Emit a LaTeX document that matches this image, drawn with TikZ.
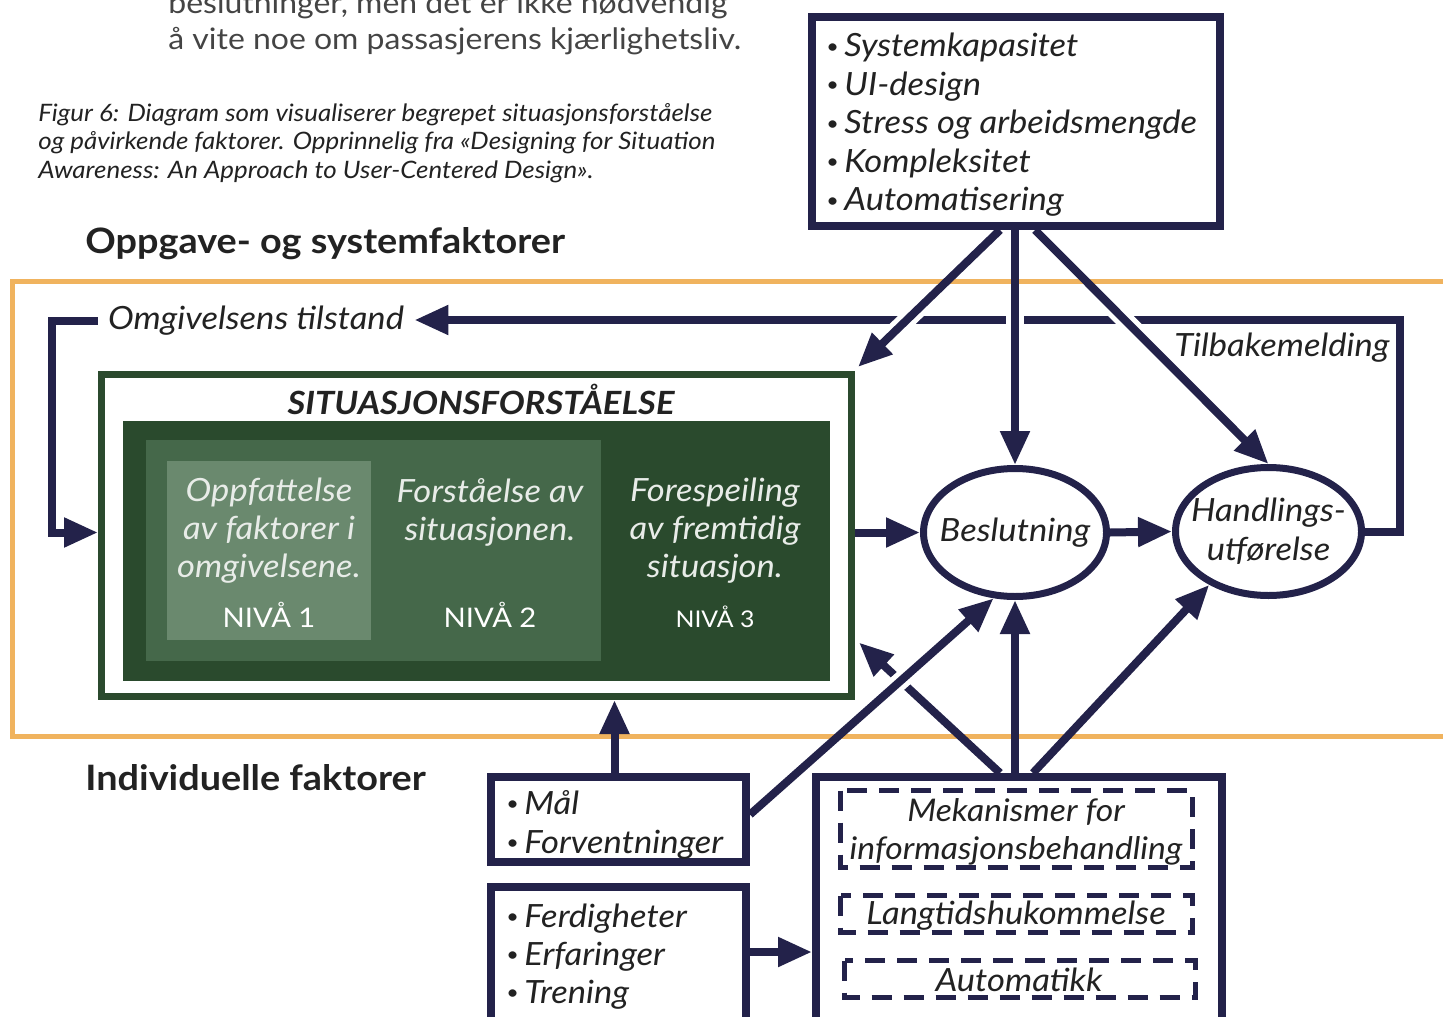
\documentclass[tikz,border=0pt]{standalone}
\usepackage{fontspec}
\setmainfont{Lato}[FakeStretch=1.08]
\usetikzlibrary{arrows.meta,shapes.geometric,calc}
\definecolor{navy}{HTML}{23224A}
\definecolor{ink}{HTML}{222222}
\definecolor{bodygray}{HTML}{444444}
\definecolor{taskorange}{HTML}{F0B35E}
\definecolor{saborder}{HTML}{2B4A2E}
\definecolor{gdark}{HTML}{2A4A2D}
\definecolor{gmid}{HTML}{45684A}
\definecolor{glight}{HTML}{6A896E}
\definecolor{levtext}{HTML}{E8ECE8}

\begin{document}
\begin{tikzpicture}[x=0.5pt,y=-0.5pt,
  conn/.style={draw=navy, line width=4pt, -{Triangle[length=17pt,width=14pt]}},
  halo/.style={draw=white, line width=9pt},
  factorbox/.style={draw=navy, line width=4pt, fill=white, inner sep=0pt},
  dashbox/.style={draw=navy, line width=2.5pt, dash pattern=on 10pt off 6pt},
  oval/.style={ellipse, draw=navy, line width=3.5pt, fill=white, inner sep=0pt},
  lab/.style={font=\fontsize{16}{19.5}\selectfont\itshape, text=ink, inner sep=0pt},
  item/.style={font=\fontsize{16}{19.5}\selectfont\itshape, text=ink, inner sep=0pt, anchor=base west},
  lev/.style={font=\fontsize{16}{19}\selectfont\itshape, text=levtext, align=center, inner sep=0pt},
  nivaa/.style={font=\fontsize{13.5}{16}\selectfont, text=white, inner sep=0pt},
  heading/.style={font=\fontsize{17.5}{21}\selectfont\bfseries, text=ink, anchor=base west, inner sep=0pt},
  captionline/.style={font=\fontsize{12}{14}\selectfont\itshape, text=ink, anchor=base west, inner sep=0pt},
  bodyline/.style={font=\fontsize{14.8}{18}\selectfont, text=bodygray, anchor=base west, inner sep=0pt},
]
\newcommand{\bul}{\makebox[9pt][l]{\upshape\raisebox{1.8pt}{\fontsize{10}{12}\selectfont\textbullet}}}

\useasboundingbox (0,0) rectangle (1443,1016);
\clip (0,0) rectangle (1443,1016);

% running text and caption
\node[bodyline] (body1) at (168,14) {beslutninger, men det er ikke nødvendig};
\node[bodyline] (body2) at (168,50) {å vite noe om passasjerens kjærlighetsliv.};
\node[captionline] (cap1) at (38,122) {Figur 6: Diagram som visualiserer begrepet situasjonsforståelse};
\node[captionline] (cap2) at (38,150) {og påvirkende faktorer. Opprinnelig fra «Designing for Situation};
\node[captionline] (cap3) at (38,179) {Awareness: An Approach to User-Centered Design».};

\node[heading] (h1) at (85,253) {Oppgave- og systemfaktorer};
\node[heading] (h2) at (85,790) {Individuelle faktorer};

% task/system region
\draw[taskorange, line width=2.5pt] (12.5,281.5) rectangle (1480,736.5);

% situation awareness block
\node[draw=saborder, line width=3.5pt, fill=white, minimum width=375pt, minimum height=161pt, inner sep=0pt] (sa) at (476.5,535.5) {};
\fill[gdark] (123,421) rectangle (830,681);
\fill[gmid] (146,440) rectangle (601,661);
\fill[glight] (167,461) rectangle (371,640);
\node[font=\fontsize{16}{18}\selectfont\bfseries\itshape, text=ink, inner sep=0pt] (satitle) at (481,399) {SITUASJONSFORSTÅELSE};
\node[lev] (lev1) at (269,531) {Oppfattelse\\av faktorer i\\omgivelsene.};
\node[lev] (lev2) at (490,512) {Forståelse av\\situasjonen.};
\node[lev] (lev3) at (715,531) {Forespeiling\\av fremtidig\\situasjon.};
\node[nivaa] (n1) at (269,615) {NIVÅ 1};
\node[nivaa] (n2) at (490,615) {NIVÅ 2};
\node[nivaa, font=\fontsize{11.5}{14}\selectfont] (n3) at (715,617) {NIVÅ 3};

% decision and action
\node[oval, minimum width=91.5pt, minimum height=64pt] (besl) at (1015,532.5) {};
\node[lab] at (besl) {Beslutning};
\node[oval, minimum width=93pt, minimum height=64pt] (hand) at (1268.5,531.5) {};
\node[lab, align=center] at (hand) {Handlings-\\utførelse};

% factor boxes
\node[factorbox, minimum width=204pt, minimum height=104.5pt] (sys) at (1016,121.5) {};
\node[item] (s1) at (826,57) {\bul Systemkapasitet};
\node[item] (s2) at (826,95.5) {\bul UI-design};
\node[item] (s3) at (826,134) {\bul Stress og arbeidsmengde};
\node[item] (s4) at (826,172.5) {\bul Kompleksitet};
\node[item] (s5) at (826,211) {\bul Automatisering};

\node[factorbox, minimum width=127.5pt, minimum height=42.5pt] (mal) at (618.5,819.5) {};
\node[item] (m1) at (506,814) {\bul Mål};
\node[item] (m2) at (506,853) {\bul Forventninger};

\node[factorbox, minimum width=127.5pt, minimum height=76.5pt] (fer) at (618.5,963.5) {};
\node[item] (f1) at (506,927) {\bul Ferdigheter};
\node[item] (f2) at (506,965) {\bul Erfaringer};
\node[item] (f3) at (506,1003) {\bul Trening};

\node[factorbox, minimum width=203pt, minimum height=131.5pt] (mech) at (1019,908.5) {};
\draw[dashbox] (840.5,790.5) rectangle (1192.5,867.5);
\draw[dashbox] (840.5,895.5) rectangle (1192.5,932.5);
\draw[dashbox] (844.5,960.5) rectangle (1195.5,997.5);
\node[lab, align=center, font=\fontsize{15.6}{19}\selectfont\itshape] (mk1) at (1016,832) {Mekanismer for\\informasjonsbehandling};
\node[lab] (mk2) at (1016,916) {Langtidshukommelse};
\node[lab] (mk3) at (1019,980) {Automatikk};

% environment loop and feedback
\node[lab, inner xsep=5pt] (omg) at (256,321) {Omgivelsens tilstand};
\node[lab, anchor=base east] (tilb) at (1390,356) {Tilbakemelding};
\coordinate (fbcorner) at (1400,320);
\coordinate (envcorner) at (52,320);
\draw[conn] (hand.east) -| (fbcorner) -- (fbcorner -| omg.east);
\draw[conn] (omg.west) -- (omg.west -| envcorner) |- (besl.west -| sa.west);

% main flow
\draw[conn] (besl.west -| sa.east) -- (besl.west);
\draw[conn] (besl.east) -- (hand.west);

% task and system factors
\coordinate (sysl) at ($(sys.south)+(-16,0)$);
\coordinate (sysr) at ($(sys.south)+(19,0)$);
\coordinate (satr) at ($(sa.north east)+(3,-4)$);
\begin{scope}
  \clip (840,306) rectangle (1200,334);
  \draw[halo] (sysl) -- (satr);
  \draw[halo] (besl.north |- sys.south) -- (besl.north);
  \draw[halo] (sysr) -- (hand.north);
\end{scope}
\draw[conn] (sysl) -- (satr);
\draw[conn] (besl.north |- sys.south) -- (besl.north);
\draw[conn] (sysr) -- (hand.north);

% individual factors
\coordinate (mechl) at ($(mech.north)+(-19,0)$);
\coordinate (mechr) at ($(mech.north)+(14,0)$);
\coordinate (sabr) at ($(sa.east)+(4,107)$);
\draw[conn] (mechl) -- (sabr);
\draw[conn] (besl.south |- mech.north) -- (besl.south);
\draw[conn] (mechr) -- (hand.222);
\coordinate (malup) at ($(mal.north)+(-4,0)$);
\draw[conn] (malup) -- (malup |- sa.south);
\coordinate (malout) at ($(mal.east)+(0,-5)$);
\begin{scope}
  \clip (878,662) rectangle (922,704);
  \draw[halo] (malout) -- (besl.252);
\end{scope}
\draw[conn] (malout) -- (besl.252);
\coordinate (ferout) at ($(fer.east)+(0,-11.5)$);
\draw[conn] (ferout) -- (ferout -| mech.west);
\end{tikzpicture}
\end{document}
